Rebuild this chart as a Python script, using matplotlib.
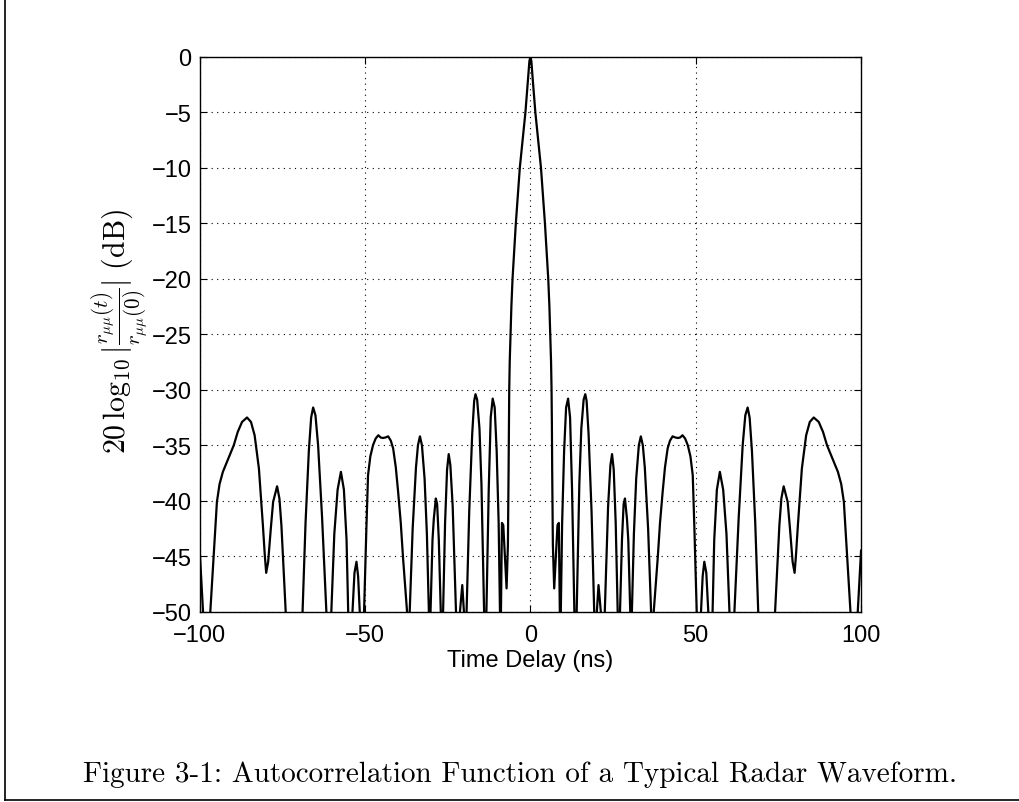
import numpy as np
import matplotlib
matplotlib.use('Agg')
import matplotlib.pyplot as plt
from matplotlib.lines import Line2D

plt.rcParams['mathtext.fontset'] = 'cm'

# left half of the autocorrelation (t <= 0); the function is even
t_half = [-100, -99.0, -97.9, -96.8, -95.8, -94.8, -94.0, -93.0, -91.5, -89.7,
          -88.5, -87.2, -85.7, -84.5, -83.4, -82.1, -80.9, -80.3, -79.9, -79.3,
          -78.5, -77.8, -76.6, -75.9, -75.3, -74.0, -71.5, -68.9, -68.0, -67.0,
          -66.3, -65.7, -65.0, -64.2, -63.0, -61.7, -61.0, -60.2, -59.3, -58.3,
          -57.3, -56.4, -55.6, -55.1, -54.4, -53.8, -53.2, -52.6, -52.1, -51.6,
          -50.9, -50.3, -49.6, -49.1, -48.4, -47.6, -46.8, -46.0, -45.3, -44.6,
          -43.8, -43.0, -42.2, -41.5, -40.7, -40.0, -39.2, -38.5, -37.3, -36.9,
          -36.5, -35.6, -34.6, -34.0, -33.4, -32.8, -32.0, -31.3, -30.7, -30.45,
          -30.2, -29.6, -29.2, -28.6, -28.2, -27.7, -27.1, -26.8, -26.4, -25.8,
          -25.2, -24.7, -24.2, -23.5, -22.5, -21.9, -21.3, -20.6, -20.1, -19.7,
          -19.3, -18.5, -17.6, -17.0, -16.6, -16.1, -15.4, -14.8, -14.0, -13.65,
          -13.3, -12.6, -12.0, -11.4, -10.8, -10.2, -9.6, -9.2, -9.05, -8.9,
          -8.6, -8.2, -7.2, -6.8, -6.6, -6.5, -6.4, -6.25, -6.0, -5.75,
          -5.4, -4.9, -4.4, -3.8, -3.2, -2.35, -1.5, -0.7, -0.3, 0.0]
db_half = [-44.5, -50, -60, -50, -45, -40.1, -38.5, -37.4, -36.3, -35.0,
           -33.8, -32.9, -32.5, -32.9, -34.1, -37.1, -42.2, -45.0, -46.5, -45.5,
           -42.5, -40.1, -38.7, -39.8, -42.2, -50, -60, -50, -42, -35.5,
           -32.5, -31.6, -32.3, -35.0, -41.5, -50, -60, -50, -43, -39,
           -37.4, -39, -43.5, -50, -60, -50, -46.5, -45.5, -46.8, -50,
           -60, -50, -42.5, -37.7, -36.0, -35.0, -34.4, -34.1, -34.3, -34.35,
           -34.3, -34.2, -34.6, -35.3, -37.0, -39.2, -42.0, -45.2, -50, -60,
           -50, -42.5, -37, -35.0, -34.2, -35.0, -38, -43, -50, -60,
           -50, -43.5, -41.6, -39.8, -40.3, -43.5, -50, -60, -50, -42,
           -37.2, -35.8, -36.8, -40.5, -50, -60, -50, -47.6, -50, -60,
           -50, -41, -34, -31.0, -30.4, -30.9, -33.5, -38.5, -50, -60,
           -50, -39, -32.5, -30.8, -31.6, -35.5, -42, -50, -60, -50,
           -42.0, -42.2, -47.9, -44.0, -37.5, -33.0, -30.0, -27.5, -25.0, -22.5,
           -20.0, -17.5, -15.0, -12.5, -10.0, -7.5, -5.0, -2.0, -0.4, 0.0]

t_half = np.array(t_half)
db_half = np.array(db_half)
t = np.concatenate([t_half, -t_half[-2::-1]])
db = np.concatenate([db_half, db_half[-2::-1]])

fig = plt.figure(figsize=(10.19, 8.03), dpi=100)
ax = fig.add_axes([0.196, 0.237, 0.649, 0.691])
ax.plot(t, db, color='black', lw=1.6)
ax.set_xlim(-100, 100)
ax.set_ylim(-50, 0)
ax.set_xticks([-100, -50, 0, 50, 100])
ax.set_yticks(range(-50, 1, 5))
ax.grid(True, linestyle=(0, (1, 4)), color='black', lw=0.8)
ax.tick_params(direction='in', top=True, right=True, length=5, labelsize=17,
               pad=6)
ax.tick_params(axis='x', pad=9)
for lab in ax.get_xticklabels() + ax.get_yticklabels():
    lab.set_family('Liberation Sans')
for s in ax.spines.values():
    s.set_linewidth(1.0)
ax.set_xlabel('Time Delay (ns)', family='Liberation Sans', fontsize=17, labelpad=2)

fig.text(120 / 1019, 1 - 332 / 803,
         r'$20\,\log_{10}|\frac{r_{\mu\mu}(t)}{r_{\mu\mu}(0)}|\ (\mathrm{dB})$',
         rotation=90, ha='center', va='center', fontsize=21.5)

fig.text(520 / 1019, 1 - 775 / 803,
         'Figure 3-1: Autocorrelation Function of a Typical Radar Waveform.',
         family='cmr10', fontsize=21, ha='center', va='center')

# page frame (left and bottom edges)
fig.add_artist(Line2D([5 / 1019, 5 / 1019], [0.0025, 1.0], transform=fig.transFigure,
                      color='black', lw=1.2))
fig.add_artist(Line2D([5 / 1019, 1.0], [0.0025, 0.0025], transform=fig.transFigure,
                      color='black', lw=1.2))

fig.savefig('out.png', dpi=100)
